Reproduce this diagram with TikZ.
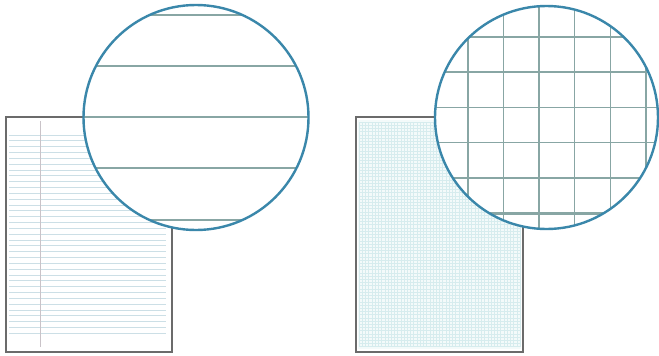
\documentclass[tikz,border=0pt]{standalone}
\begin{document}
\begin{tikzpicture}[x=1pt,y=-1pt,
  pageborder/.style={draw=black!58,line width=1.5pt},
  ruled/.style={draw=ruledc,line width=0.7pt},
  marginline/.style={draw=marginc,line width=1pt},
  finegrid/.style={draw=finec,line width=0.5pt},
  zoomline/.style={draw=zoomc,line width=1.2pt},
  zoomthick/.style={draw=zoomc,line width=2.4pt},
  lens/.style={draw=lensc,line width=2.4pt}]
\definecolor{ruledc}{HTML}{CCDFE6}
\definecolor{marginc}{HTML}{C9C3C8}
\definecolor{finec}{HTML}{D6ECEE}
\definecolor{paperc}{HTML}{F3FAFA}
\definecolor{zoomc}{HTML}{88A6A4}
\definecolor{lensc}{HTML}{3A87AA}
\useasboundingbox (0,0) rectangle (659,356);
\fill[white] (0,0) rectangle (659,356);
% ---- left: ruled page ----
\coordinate (LP1) at (6,117);
\coordinate (LP2) at (172,352);
\foreach \i in {0,...,34}
  \draw[ruled] (9,{135+\i*5.83}) -- (166,{135+\i*5.83});
\draw[marginline] (40,121) -- (40,347);
\draw[pageborder] (LP1) rectangle (LP2);
\coordinate (LC) at (196,117.5);
\begin{scope}
  \clip (LC) circle (112.5pt);
  \fill[white] (LC) circle (112.5pt);
  \foreach \y in {15,66,117,168,220}
    \draw[zoomline] (70,\y) -- (320,\y);
\end{scope}
\draw[lens] (LC) circle (112.5pt);
% ---- right: graph page ----
\coordinate (RP1) at (356,117);
\coordinate (RP2) at (523,352);
\fill[paperc] (358,120) rectangle (521,349);
\foreach \i in {0,...,50}
  \draw[finegrid] ({359+\i*3.22},122) -- ({359+\i*3.22},347);
\foreach \i in {0,...,70}
  \draw[finegrid] (359,{122+\i*3.21}) -- (520,{122+\i*3.21});
\draw[pageborder] (RP1) rectangle (RP2);
\coordinate (RC) at (546.5,117.5);
\begin{scope}
  \clip (RC) circle (111.5pt);
  \fill[white] (RC) circle (111.5pt);
  \foreach \i in {-1,...,6} {
    \draw[zoomline] ({467.7+\i*35.66},0) -- ({467.7+\i*35.66},240);
    \draw[zoomline] (430,{36.7+\i*35.32}) -- (665,{36.7+\i*35.32});
  }
  \draw[zoomthick] (467.7,0) -- (467.7,240);
  \draw[zoomthick] (646,0) -- (646,240);
  \draw[zoomthick] (430,36.7) -- (665,36.7);
  \draw[zoomthick] (430,213.3) -- (665,213.3);
\end{scope}
\draw[lens] (RC) circle (111.5pt);
\end{tikzpicture}
\end{document}
